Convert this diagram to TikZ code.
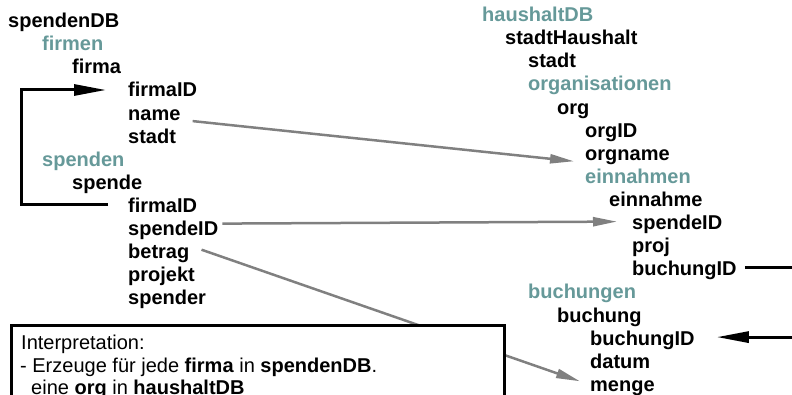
\documentclass[tikz,border=0pt]{standalone}
\usepackage{fontspec}
\setmainfont{Liberation Sans}
\usetikzlibrary{arrows.meta}
\definecolor{setcol}{RGB}{102,153,153}
\definecolor{mapgray}{RGB}{128,128,128}
\begin{document}
\begin{tikzpicture}[x=1pt,y=-1pt,
  item/.style={anchor=base west,inner sep=0pt,font=\bfseries\fontsize{20}{23}\selectfont},
  coll/.style={item,text=setcol},
  note/.style={anchor=base west,inner sep=0pt,font=\fontsize{20}{23}\selectfont},
  maparrow/.style={draw=mapgray,line width=2.5pt,-{Triangle[length=24pt,width=9pt]}},
  refarrow/.style={draw=black,line width=3pt,-{Triangle[length=32pt,width=11pt]}}]
\useasboundingbox (0,0) rectangle (792,395);
\clip (0,0) rectangle (792,395);

% source database
\node[item] (spendenDB) at (8,27.7) {spendenDB};
\node[coll] (firmen)    at (42,50.8) {firmen};
\node[item] (firma)     at (72,73.9) {firma};
\node[item] (ffirmaID)  at (128,97) {firmaID};
\node[item] (fname)     at (128,120.1) {name};
\node[item] (fstadt)    at (128,143.2) {stadt};
\node[coll] (spenden)   at (42,166.3) {spenden};
\node[item] (spende)    at (72,189.4) {spende};
\node[item] (sfirmaID)  at (128,212.5) {firmaID};
\node[item] (sspendeID) at (128,235.6) {spendeID};
\node[item] (sbetrag)   at (128,258.7) {betrag};
\node[item] (sprojekt)  at (128,281.8) {projekt};
\node[item] (sspender)  at (128,304.9) {spender};

% target database
\node[coll] (haushaltDB)    at (482,21.7) {haushaltDB};
\node[item] (stadtHaushalt) at (505,44.8) {stadtHaushalt};
\node[item] (hstadt)        at (528,67.9) {stadt};
\node[coll] (organisationen) at (528,91) {organisationen};
\node[item] (org)           at (557,114.1) {org};
\node[item] (orgID)         at (585,137.2) {orgID};
\node[item] (orgname)       at (585,160.3) {orgname};
\node[coll] (einnahmen)     at (585,183.4) {einnahmen};
\node[item] (einnahme)      at (609,206.5) {einnahme};
\node[item] (espendeID)     at (632,229.6) {spendeID};
\node[item] (eproj)         at (632,252.7) {proj};
\node[item] (ebuchungID)    at (632,275.8) {buchungID};
\node[coll] (buchungen)     at (528,298.9) {buchungen};
\node[item] (buchung)       at (557,322) {buchung};
\node[item] (bbuchungID)    at (590,345.1) {buchungID};
\node[item] (bdatum)        at (590,368.2) {datum};
\node[item] (bmenge)        at (590,391.3) {menge};

% key references
\coordinate (lbar) at (21,0);
\coordinate (rbar) at (812,0);
\draw[refarrow] ([shift={(-20,-8)}]sfirmaID.base west) -- ([yshift=8pt]sfirmaID.base west -| lbar)
  |- ([shift={(-22,-7)}]ffirmaID.base west);
\draw[refarrow] ([shift={(8,-8)}]ebuchungID.base east) -- ([yshift=8pt]ebuchungID.base east -| rbar)
  |- ([shift={(22,-8)}]bbuchungID.base east);

% value mappings
\draw[maparrow] ([shift={(12,1)}]fname.base east) -- ([shift={(-11,1)}]orgname.base west);
\draw[maparrow] ([shift={(4,-12)}]sspendeID.base east) -- ([shift={(-15,-8)}]espendeID.base west);
\draw[maparrow] ([shift={(12,-9)}]sbetrag.base east) -- ([shift={(-10,-10)}]bmenge.base west);

% interpretation box
\draw[line width=3pt,fill=white] (11,325) rectangle (504,440);
\node[note] (interp1) at (21,349.7) {Interpretation:};
\node[note] (interp2) at (20,372.3) {- Erzeuge für jede \textbf{firma} in \textbf{spendenDB}.};
\node[note] (interp3) at (20,394.7) {\hspace*{11pt}eine \textbf{org} in \textbf{haushaltDB}};
\end{tikzpicture}
\end{document}
